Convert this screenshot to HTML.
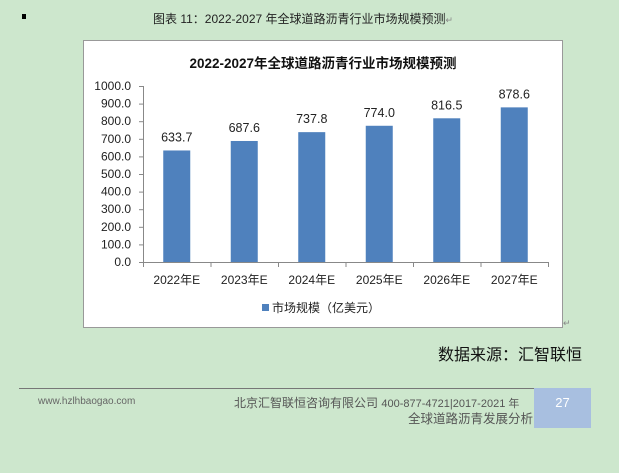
<!DOCTYPE html>
<html><head><meta charset="utf-8"><style>
body{margin:0;width:619px;height:473px;background:#cde7cd;font-family:"Liberation Sans","Noto Sans CJK SC",sans-serif;position:relative;overflow:hidden}
.a{position:absolute;white-space:nowrap}
</style></head><body>
<div class="a" style="left:22px;top:14px;width:4px;height:5px;background:#000"></div>
<div class="a" style="left:153px;top:10px;font-size:12px;color:#222">图表 11：2022-2027 年全球道路沥青行业市场规模预测<span style="color:#888;font-size:9px">↵</span></div>
<svg class="a" style="left:0;top:0" width="619" height="473">
<rect x="83.5" y="40.5" width="479" height="287" fill="#fff" stroke="#999"/>
<text x="323" y="68" text-anchor="middle" font-size="13.5" font-weight="bold" fill="#111" font-family="Liberation Sans,Noto Sans CJK SC,sans-serif">2022-2027年全球道路沥青行业市场规模预测</text>
<g id="ax"></g><g id="bars"></g>
<rect x="262" y="304" width="7" height="7" fill="#4f81bd"/>
<text x="272" y="312" font-size="12" fill="#222" font-family="Liberation Sans,Noto Sans CJK SC,sans-serif">市场规模（亿美元）</text>
</svg>
<div class="a" style="left:563px;top:318px;font-size:9px;color:#888">↵</div>
<div class="a" style="left:438px;top:341px;font-size:16px;color:#111">数据来源：汇智联恒</div>
<div class="a" style="left:19px;top:388px;width:516px;height:1px;background:#777"></div>
<div class="a" style="left:38px;top:396px;font-size:10px;color:#666">www.hzlhbaogao.com</div>
<div class="a" style="left:234px;top:394px;font-size:12px;color:#555">北京汇智联恒咨询有限公司 <span style="font-size:11px">400-877-4721|2017-2021 年</span></div>
<div class="a" style="left:408px;top:408px;font-size:12.5px;color:#555">全球道路沥青发展分析</div>
<div class="a" style="left:534px;top:388px;width:57px;height:40px;background:#a8bfe0;color:#fff;font-size:13px;text-align:center;line-height:30px">27</div>
<script>
const cats=["2022年E","2023年E","2024年E","2025年E","2026年E","2027年E"];
const vals=[633.7,687.6,737.8,774.0,816.5,878.6];
const ticks=[0,100,200,300,400,500,600,700,800,900,1000];
const ns="http://www.w3.org/2000/svg";
const x0=143,x1=548,yb=262,yt=86,ymax=1000;
const y=v=>yb-(v/ymax)*(yb-yt);
const bw=(x1-x0)/cats.length;
const xc=i=>x0+bw*(i+0.5);
function mk(t,a,p){const e=document.createElementNS(ns,t);for(const k in a)e.setAttribute(k,a[k]);p.appendChild(e);return e;}
const ax=document.getElementById('ax'),bg=document.getElementById('bars');
const f="Liberation Sans,Noto Sans CJK SC,sans-serif";
const yl=mk('line',{x1:x0+.5,x2:x0+.5,y1:yt,y2:yb,stroke:'#888'},ax);


const xl=mk('line',{x1:x0,x2:x1,y1:yb+.5,y2:yb+.5,stroke:'#888'},ax);


ticks.forEach(t=>{
 mk('line',{x1:x0-4,x2:x0,y1:y(t)+.5,y2:y(t)+.5,stroke:'#888'},ax);
 const tx=mk('text',{x:x0-12,y:y(t)+4,'text-anchor':'end','font-size':12,fill:'#222','font-family':f},ax);
 tx.textContent=t.toFixed(1);
 
 
});
for(let i=0;i<=cats.length;i++)mk('line',{x1:x0+bw*i+.5,x2:x0+bw*i+.5,y1:yb,y2:yb+5,stroke:'#888'},ax);
cats.forEach((c,i)=>{
 const r=mk('rect',{x:xc(i)-13.5,y:y(vals[i]),width:27,height:yb-y(vals[i]),fill:'#4f81bd'},bg);
 
 
 const v=mk('text',{x:xc(i),y:y(vals[i])-9,'text-anchor':'middle','font-size':12.5,fill:'#222','font-family':f},bg);
 v.textContent=vals[i].toFixed(1);
 
 
 const l=mk('text',{x:xc(i),y:yb+22,'text-anchor':'middle','font-size':12,fill:'#222','font-family':f},ax);
 l.textContent=c;
 
 
});
</script>
</body></html>
